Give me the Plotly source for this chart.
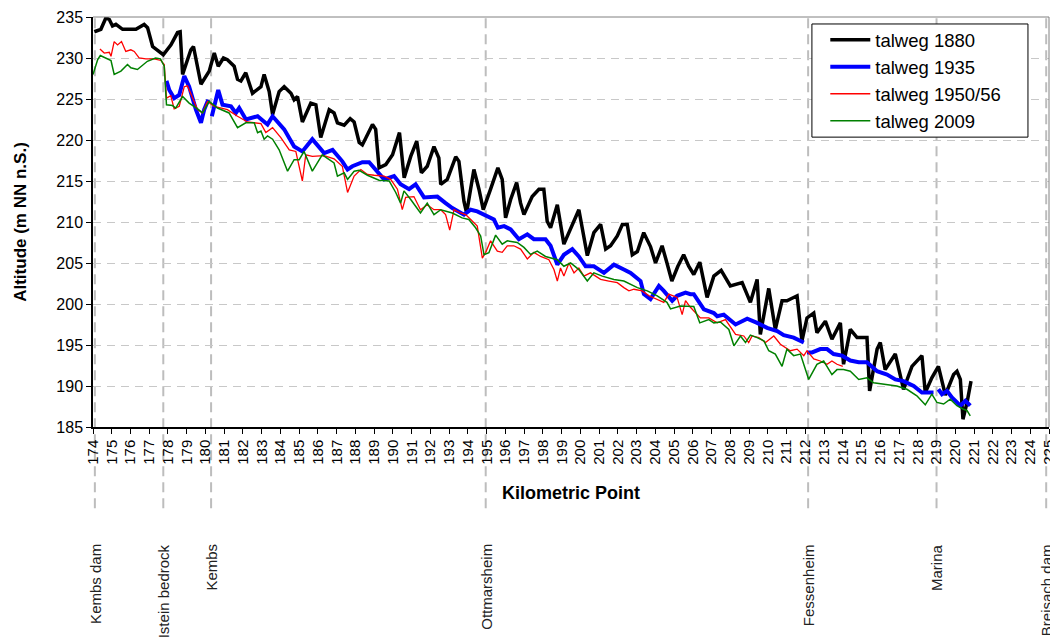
import plotly.graph_objects as go

# ---------------- data ----------------
km_1880 = [174.07, 174.42, 174.69, 174.87, 175.04, 175.22, 175.58, 175.94, 176.29, 176.73, 176.91, 177.18, 177.53, 177.75,
           178.16, 178.51, 178.65, 178.78, 179.22, 179.36, 179.76, 180.2, 180.47, 180.68, 180.96, 181.17, 181.53, 181.71,
           181.89, 182.15, 182.51, 182.96, 183.13, 183.4, 183.58, 183.93, 184.2, 184.56, 184.73, 184.91, 185.17, 185.62,
           185.89, 186.15, 186.6, 186.86, 187.04, 187.4, 187.72, 187.93, 188.2, 188.37, 188.91, 189.08, 189.26, 189.62,
           189.98, 190.35, 190.6, 190.95, 191.27, 191.52, 191.83, 192.19, 192.45, 192.55, 192.9, 193.35, 193.52, 193.79,
           193.93, 194.32, 194.59, 194.82, 195.21, 195.6, 195.83, 196.01, 196.28, 196.6, 196.81, 196.99, 197.43, 197.79,
           198.05, 198.23, 198.41, 198.77, 199.12, 199.48, 199.92, 200.37, 200.72, 201.08, 201.35, 201.61, 201.97, 202.24,
           202.5, 202.77, 203.04, 203.38, 203.74, 204.01, 204.36, 204.62, 204.88, 205.2, 205.51, 205.78, 206.05, 206.37,
           206.76, 207.12, 207.51, 208.0, 208.63, 209.07, 209.43, 209.6, 210.05, 210.4, 210.76, 211.02, 211.56, 211.82,
           212.09, 212.45, 212.62, 213.07, 213.42, 213.87, 214.04, 214.4, 214.76, 215.29, 215.43, 215.83, 216.0, 216.26,
           216.8, 217.24, 217.69, 218.22, 218.4, 218.75, 219.1, 219.47, 219.91, 220.09, 220.27, 220.41, 220.63, 220.84]
alt_1880 = [233.2, 233.5, 234.9, 234.7, 233.9, 234.1, 233.5, 233.5, 233.5, 234.1, 233.7, 231.4, 230.8, 230.4,
            231.6, 233.1, 233.2, 228.0, 231.0, 231.4, 226.8, 228.4, 230.6, 229.0, 230.0, 229.8, 229.0, 227.4,
            227.2, 228.2, 225.7, 226.5, 228.0, 225.9, 223.1, 225.9, 226.5, 225.7, 224.9, 225.3, 222.2, 224.5,
            224.3, 220.3, 223.7, 223.3, 222.1, 221.8, 222.6, 222.2, 219.7, 219.4, 221.9, 221.3, 216.6, 217.0,
            218.2, 220.9, 215.4, 218.0, 219.85, 216.0, 216.8, 219.2, 217.8, 214.6, 215.2, 217.95, 217.4, 212.5,
            211.1, 216.4, 214.0, 211.5, 214.0, 216.6, 215.2, 210.5, 212.75, 214.8, 212.3, 210.9, 213.1, 214.0,
            214.0, 210.1, 209.3, 212.1, 207.3, 209.3, 211.5, 205.9, 208.7, 209.7, 206.7, 207.1, 208.3, 209.7,
            209.7, 206.0, 206.4, 208.7, 207.0, 205.0, 207.1, 205.0, 202.8, 204.6, 206.0, 204.6, 203.6, 205.1,
            200.8, 203.4, 204.1, 202.2, 202.6, 200.2, 203.0, 196.3, 201.9, 196.9, 200.4, 200.4, 201.0, 195.5,
            198.3, 198.9, 196.5, 197.9, 195.7, 197.7, 192.65, 196.9, 195.9, 195.9, 189.4, 194.5, 195.3, 192.0,
            193.9, 189.6, 192.4, 193.7, 189.2, 191.0, 192.4, 188.9, 191.4, 191.8, 190.8, 185.95, 188.0, 190.6]

km_1935 = [177.92, 178.07, 178.33, 178.6, 178.87, 179.13, 179.49, 179.76, 179.93, 180.15, None,
           180.34, 180.68, 180.91, 181.36, 181.62, 181.8, 182.16, 182.78, 183.31, 183.58, 184.2, 184.73, 185.17,
           185.7, 186.33, 186.78, 187.3, 187.58, 187.84, 188.37, 188.73, 189.17, 189.53, 190.06, 190.41, 190.86,
           191.21, 191.66, 192.37, 192.81, 193.17, 193.79, 194.15, 194.5, 194.86, 195.39, 195.6, 195.93, 196.28,
           196.72, 197.17, 197.52, 198.14, 198.41, 198.77, 199.12, 199.57, 199.92, 200.28, 200.72, 201.26, 201.79,
           202.32, 202.68, 203.21, 203.39, 203.74, 204.0, 204.19, 204.45, 204.9, 205.16, 205.61, 205.87, 206.05,
           206.59, 207.12, 207.3, 207.65, 208.28, 208.9, 209.43, 209.96, 210.5, 210.85, 211.38, 211.92, None,
           212.09, 212.36, 212.8, 213.16, 213.51, 213.96, 214.4, 214.85, 215.29, 215.83, 216.36, 216.8, 217.24,
           217.78, 218.22, 218.84, None, 219.1, 219.29, 219.56, 219.82, 220.27, 220.54, 220.8]
alt_1935 = [227.2, 226.1, 225.1, 225.5, 227.8, 226.5, 223.7, 222.1, 223.7, 224.9, None,
            222.9, 226.1, 224.3, 224.1, 223.3, 223.9, 222.5, 222.9, 221.9, 222.9, 221.3, 219.2, 218.6,
            220.1, 218.4, 218.8, 217.4, 216.4, 216.8, 217.3, 217.3, 216.2, 215.2, 215.6, 214.6, 214.0,
            214.6, 213.0, 213.1, 212.3, 211.7, 210.9, 211.5, 211.3, 210.9, 210.3, 209.3, 209.5, 209.1,
            207.9, 208.5, 207.9, 207.9, 207.1, 204.8, 206.0, 206.7, 205.8, 204.6, 204.6, 203.8, 204.8,
            204.2, 203.8, 202.8, 201.2, 200.6, 201.6, 202.2, 201.6, 200.4, 201.0, 201.4, 201.2, 201.2,
            199.35, 198.9, 198.5, 198.7, 197.5, 198.2, 197.7, 197.1, 196.7, 196.2, 195.9, 195.3, None,
            194.1, 194.1, 194.5, 194.5, 193.9, 193.7, 193.1, 192.9, 192.9, 191.8, 191.4, 190.8, 190.6,
            190.0, 189.2, 189.2, None, 189.6, 189.0, 189.4, 188.6, 187.6, 188.2, 187.6]

km_1950 = [174.37, 174.6, 174.87, 174.96, 175.13, 175.31, 175.52, 175.75, 176.02, 176.2, 176.46, 176.82, 177.26,
           177.62, 177.8, 177.92, 178.15, 178.33, 178.6, 178.87, 179.04, 179.22, 179.58, 179.84, 180.11, 180.47,
           181.17, 181.71, 182.24, 182.96, 183.22, 183.58, 184.02, 184.47, 184.82, 185.17, 185.35, 185.7, 186.33,
           186.86, 187.3, 187.58, 187.93, 188.29, 188.64, 189.0, 189.53, 189.88, 190.24, 190.5, 190.68, 191.12,
           191.47, 191.83, 192.19, 192.55, 192.81, 193.03, 193.26, 193.62, 193.88, 194.15, 194.32, 194.5, 194.77,
           194.95, 195.21, 195.57, 195.83, 196.1, 196.45, 196.81, 197.17, 197.52, 197.88, 198.32, 198.59, 198.77,
           198.94, 199.12, 199.39, 199.66, 199.92, 200.19, 200.54, 201.08, 201.52, 201.97, 202.32, 202.59, 202.86,
           203.3, 203.66, 204.1, 204.45, 204.72, 205.16, 205.43, 205.61, 205.87, 206.14, 206.4, 206.85, 207.3,
           207.74, 208.28, 208.72, 208.98, 209.16, 209.52, 209.88, 210.32, 210.67, 211.2, 211.56, 211.92, 212.09,
           212.45, 212.8, 213.16, 213.42, 213.69, 214.0]
alt_1950 = [231.1, 230.6, 230.7, 230.2, 232.0, 231.6, 232.0, 230.8, 231.0, 230.8, 230.0, 229.9, 229.9,
            229.7, 229.2, 225.1, 225.4, 223.8, 224.1, 226.5, 226.6, 225.7, 223.7, 223.3, 224.7, 224.1,
            223.7, 222.9, 222.2, 222.0, 220.9, 221.5, 220.3, 218.8, 218.6, 215.0, 218.2, 218.0, 218.1,
            217.7, 216.8, 213.6, 215.6, 216.4, 215.8, 215.7, 215.6, 215.2, 214.0, 211.5, 213.0, 213.1,
            211.5, 212.1, 211.5, 211.5, 210.9, 209.0, 211.5, 211.1, 210.9, 210.3, 209.9, 209.5, 205.6,
            206.3, 207.7, 206.45, 206.3, 207.1, 207.1, 206.7, 205.5, 206.3, 205.8, 205.4, 204.2, 202.8,
            204.4, 203.4, 205.0, 203.8, 204.4, 203.4, 203.8, 203.0, 202.8, 202.6, 202.0, 201.6, 201.8,
            201.6, 201.0, 200.6, 200.2, 201.2, 200.8, 198.7, 200.4, 199.6, 199.0, 198.3, 198.3, 197.7,
            198.1, 196.3, 196.1, 195.3, 196.1, 195.9, 195.3, 196.1, 195.1, 194.3, 194.5, 193.7, 194.3,
            193.3, 193.05, 192.65, 193.05, 192.65, 192.4]

km_2009 = [174.0, 174.25, 174.39, 174.96, 175.13, 175.49, 175.84, 176.02, 176.37, 176.9, 177.34, 177.6, 177.8,
           177.92, 178.24, 178.41, 178.78, 179.13, 179.58, 179.84, 180.2, 180.64, 181.26, 181.71, 182.15, 182.6,
           182.78, 182.96, 183.13, 183.31, 183.58, 183.93, 184.38, 184.73, 185.0, 185.26, 185.7, 186.23, 186.86,
           187.04, 187.4, 187.58, 187.93, 188.2, 188.64, 189.26, 189.8, 190.15, 190.41, 190.59, 190.95, 191.47,
           191.83, 192.19, 192.55, 193.17, 193.69, 194.05, 194.41, 194.68, 194.86, 195.12, 195.48, 195.83, 196.1,
           196.63, 196.99, 197.34, 197.7, 198.14, 198.77, 199.12, 199.48, 199.92, 200.37, 200.72, 201.17, 201.79,
           202.32, 203.04, 203.57, 204.1, 204.62, 204.81, 205.34, 206.05, 206.37, 206.85, 207.12, 207.47, 207.92,
           208.19, 208.54, 208.81, 209.07, 209.43, 209.79, 210.05, 210.4, 210.76, 211.02, 211.38, 211.74, 212.18,
           212.62, 212.98, 213.42, 213.69, 214.04, 214.4, 214.85, 215.29, 215.64, 216.18, 216.88, 217.42, 217.95,
           218.4, 218.75, 219.02, 219.38, 219.73, 220.09, 220.41, 220.63, 220.8]
alt_2009 = [228.0, 229.8, 230.3, 229.7, 228.0, 228.4, 229.2, 228.8, 228.6, 229.6, 230.0, 229.9, 229.0,
            224.3, 224.2, 223.9, 225.3, 224.5, 223.8, 223.3, 224.7, 223.9, 223.3, 221.5, 222.1, 222.1,
            220.9, 221.1, 220.1, 220.5, 220.1, 218.8, 216.2, 217.6, 217.6, 218.6, 216.2, 218.2, 217.2,
            215.6, 216.0, 215.2, 216.2, 216.3, 215.7, 215.1, 215.0, 213.6, 212.3, 213.8, 212.75, 211.1,
            212.3, 210.9, 211.5, 211.1, 210.5, 210.3, 209.3, 208.3, 206.0, 206.25, 208.4, 207.3, 207.7,
            207.5, 206.9, 206.05, 206.45, 205.8, 205.4, 204.6, 205.0, 204.2, 202.8, 203.8, 203.4, 203.0,
            202.8, 202.0, 201.6, 201.0, 200.2, 199.4, 199.75, 199.7, 197.7, 198.1, 197.7, 197.8, 196.9,
            194.9, 196.1, 195.3, 196.2, 195.9, 195.5, 194.3, 193.9, 192.4, 194.5, 193.7, 193.9, 190.8,
            192.65, 193.05, 191.4, 192.0, 192.0, 191.8, 190.8, 191.0, 190.4, 190.2, 190.0, 189.6, 188.8,
            187.7, 189.0, 188.0, 187.8, 188.4, 187.6, 187.2, 187.0, 186.35]

km_ticks = list(range(174, 226))
alt_ticks = [185, 190, 195, 200, 205, 210, 215, 220, 225, 230, 235]

landmark_names = ["Kembs dam", "Istein bedrock", "Kembs", "Ottmarsheim", "Fessenheim", "Marina", "Breisach dam"]
landmark_km = [174.1, 177.75, 180.3, 194.95, 212.15, 219.0, 224.85]

series = [
    ("talweg 1880", km_1880, alt_1880, "#000000", 3.5),
    ("talweg 1935", km_1935, alt_1935, "#0000FF", 4),
    ("talweg 1950/56", km_1950, alt_1950, "#FF0000", 1.3),
    ("talweg 2009", km_2009, alt_2009, "#008000", 1.5),
]

FONT = "Liberation Sans, Arial, sans-serif"

fig = go.Figure()
for name, xs, ys, color, w in series:
    fig.add_trace(go.Scatter(x=xs, y=ys, mode="lines", name=name,
                             line=dict(color=color, width=w), connectgaps=False))

shapes = []
for km in landmark_km:
    shapes.append(dict(type="line", xref="x", yref="paper", x0=km, x1=km, y0=-0.198, y1=1,
                       line=dict(color="#BDBDBD", width=2, dash="10px,6px"), layer="below"))
# top / right frame
shapes.append(dict(type="path", xref="paper", yref="paper", path="M 0 1 L 1 1 L 1 0",
                   line=dict(color="#808080", width=1)))
# legend box
shapes.append(dict(type="rect", xref="paper", yref="paper", x0=0.752, x1=0.978, y0=0.707, y1=0.983,
                   line=dict(color="black", width=1), fillcolor="white", layer="above"))

annotations = []
for name, km in zip(landmark_names, landmark_km):
    annotations.append(dict(x=km, xref="x", y=-0.2805, yref="paper", text=name, textangle=-90,
                            showarrow=False, xanchor="center", yanchor="top",
                            font=dict(family=FONT, size=15, color="#222222")))

# The page body has an 8px margin, so the figure is 8px smaller than the window
# and its margins are reduced by 8px on the left/top.
fig.update_layout(
    width=1050, height=632,
    margin=dict(l=85, r=9, t=9, b=213),
    paper_bgcolor="white", plot_bgcolor="white",
    font=dict(family=FONT, color="black"),
    shapes=shapes, annotations=annotations,
    showlegend=True,
    legend=dict(x=0.766, y=0.990, xanchor="left", yanchor="top",
                bgcolor="rgba(0,0,0,0)", borderwidth=0,
                font=dict(family=FONT, size=18.5, color="black"), itemwidth=40,
                tracegroupgap=0),
    xaxis=dict(range=[174, 225], tickmode="array", tickvals=km_ticks,
               ticktext=[str(k) for k in km_ticks], tickangle=-90,
               ticks="outside", ticklen=5, tickcolor="black", tickwidth=1,
               showline=True, linecolor="black", linewidth=1.5,
               showgrid=False, zeroline=False, automargin=False,
               tickfont=dict(family=FONT, size=15, color="black"),
               title=dict(text="<b>Kilometric Point</b>", font=dict(family=FONT, size=18, color="black"),
                          standoff=23)),
    yaxis=dict(range=[185, 235], tickmode="array", tickvals=alt_ticks,
               ticks="outside", ticklen=5, tickcolor="black", tickwidth=1,
               showline=True, linecolor="black", linewidth=1.5,
               showgrid=True, gridcolor="#C8C8C8", gridwidth=1, griddash="8px,6px",
               zeroline=False, automargin=False,
               tickfont=dict(family=FONT, size=16, color="black"),
               title=dict(text="<b>Altitude (m NN n.S.)</b>", font=dict(family=FONT, size=17, color="black"),
                          standoff=25)),
)

fig.write_html("out.html")
